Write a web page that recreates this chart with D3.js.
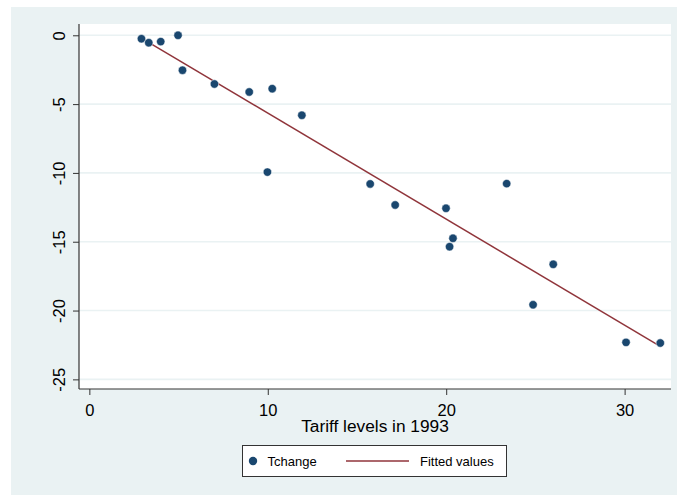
<!DOCTYPE html>
<html>
<head>
<meta charset="utf-8">
<script src="https://cdn.jsdelivr.net/npm/d3@7"></script>
<style>
  body { margin: 0; background: #fff; }
  svg { display: block; font-family: "Liberation Sans", Arial, sans-serif; }
</style>
</head>
<body>
<div id="chart"></div>
<script>
// Tariff levels in 1993 vs change in tariffs (Stata-style scatter + fit)

const tariff93 = [2.92, 3.33, 4.0, 4.97, 5.22, 7.01, 8.96, 10.25, 11.91, 9.98,
  15.74, 17.14, 19.99, 20.38, 20.19, 23.39, 26.0, 24.87, 30.08, 32.0];
const tchange = [-0.25, -0.54, -0.46, 0.0, -2.54, -3.54, -4.12, -3.88, -5.81, -9.94,
  -10.8, -12.33, -12.57, -14.75, -15.36, -10.78, -16.64, -19.58, -22.31, -22.36];

// fitted line endpoints
const fitX = [2.92, 32.0];
const fitY = [-0.2, -22.6];

const xTicks = [0, 10, 20, 30];
const yTicks = [0, -5, -10, -15, -20, -25];
const legendLabels = ["Tchange", "Fitted values"];

const W = 677, H = 495;
const plot = { left: 79, right: 671, top: 24, bottom: 389 };
const dotColor = "#1a476f";
const lineColor = "#90353b";
const bgColor = "#eaf2f3";

const svg = d3.select("#chart").append("svg")
  .attr("width", W)
  .attr("height", H);

// outer graph region
svg.append("rect")
  .attr("x", 11).attr("y", 7)
  .attr("width", W - 11).attr("height", H - 7)
  .attr("fill", bgColor);

// plot region
svg.append("rect")
  .attr("x", plot.left).attr("y", plot.top)
  .attr("width", plot.right - plot.left).attr("height", plot.bottom - plot.top)
  .attr("fill", "#fff");

const x = d3.scaleLinear().domain([-0.58, 32.6]).range([plot.left, plot.right]);
const y = d3.scaleLinear().domain([-25.7, 0.82]).range([plot.bottom, plot.top]);

// horizontal gridlines
svg.append("g")
  .selectAll("line")
  .data(yTicks)
  .join("line")
  .attr("x1", plot.left).attr("x2", plot.right)
  .attr("y1", d => y(d)).attr("y2", d => y(d))
  .attr("stroke", bgColor)
  .attr("stroke-width", 1.6);

// axes (plain hyphen for negatives, like Stata)
const fmt = d => String(d);
const xAxis = svg.append("g")
  .attr("transform", `translate(0,${plot.bottom})`)
  .call(d3.axisBottom(x).tickValues(xTicks).tickFormat(fmt).tickSize(6).tickPadding(9).tickSizeOuter(0));
const yAxis = svg.append("g")
  .attr("transform", `translate(${plot.left},0)`)
  .call(d3.axisLeft(y).tickValues(yTicks).tickFormat(fmt).tickSize(6).tickSizeOuter(0));

[xAxis, yAxis].forEach(ax => {
  ax.select(".domain").attr("stroke", "#333").attr("stroke-width", 1.2);
  ax.selectAll(".tick line").attr("stroke", "#333").attr("stroke-width", 1);
  ax.selectAll("text").attr("fill", "#000").style("font-size", "16.5px");
});

xAxis.selectAll(".domain").attr("d", `M${plot.left},0H${plot.right}`);
yAxis.selectAll(".domain").attr("d", `M0,${plot.top}V${plot.bottom}`);

yAxis.selectAll(".tick text")
  .attr("x", null).attr("dy", null)
  .attr("text-anchor", "middle")
  .attr("transform", "translate(-14,0) rotate(-90)");

// x-axis title
svg.append("text")
  .attr("x", (plot.left + plot.right) / 2)
  .attr("y", 432)
  .attr("text-anchor", "middle")
  .style("font-size", "17.3px")
  .text("Tariff levels in 1993");

// fitted line
const line = d3.line().x(d => x(d[0])).y(d => y(d[1]));
svg.append("path")
  .datum(d3.zip(fitX, fitY))
  .attr("d", line)
  .attr("fill", "none")
  .attr("stroke", lineColor)
  .attr("stroke-width", 1.5);

// points
svg.append("g")
  .selectAll("circle")
  .data(d3.zip(tariff93, tchange))
  .join("circle")
  .attr("cx", d => x(d[0]))
  .attr("cy", d => y(d[1]))
  .attr("r", 4.2)
  .attr("fill", dotColor)
  .attr("stroke", "#fff")
  .attr("stroke-width", 0.5);

// legend
const lg = svg.append("g");
lg.append("rect")
  .attr("x", 242.5).attr("y", 445.5)
  .attr("width", 264).attr("height", 31)
  .attr("fill", "#fff")
  .attr("stroke", "#333")
  .attr("stroke-width", 1);
lg.append("circle")
  .attr("cx", 253).attr("cy", 461)
  .attr("r", 4.2)
  .attr("fill", dotColor);
lg.append("text")
  .attr("x", 267.5).attr("y", 466)
  .style("font-size", "13px")
  .text(legendLabels[0]);
lg.append("line")
  .attr("x1", 346).attr("x2", 409)
  .attr("y1", 461).attr("y2", 461)
  .attr("stroke", lineColor)
  .attr("stroke-width", 1.5);
lg.append("text")
  .attr("x", 420).attr("y", 466)
  .style("font-size", "13px")
  .text(legendLabels[1]);
</script>
</body>
</html>
